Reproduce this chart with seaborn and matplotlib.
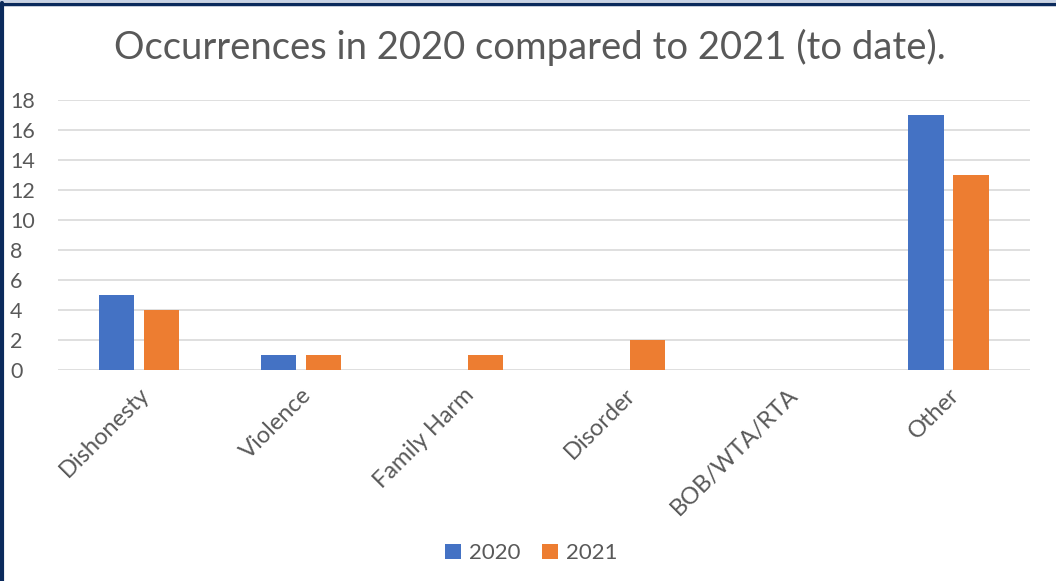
import matplotlib
matplotlib.use("Agg")
import matplotlib.pyplot as plt
import seaborn as sns
import pandas as pd
from matplotlib.patches import Rectangle
from matplotlib.lines import Line2D

categories = ["Dishonesty", "Violence", "Family Harm", "Disorder", "BOB/WTA/RTA", "Other"]
values_2020 = [5, 1, 0, 0, 0, 17]
values_2021 = [4, 1, 1, 2, 0, 13]
series = ["2020", "2021"]
colors = ["#4472C4", "#ED7D31"]
yticks = [0, 2, 4, 6, 8, 10, 12, 14, 16, 18]

df = pd.DataFrame({
    "Category": categories * 2,
    "Year": [series[0]] * len(categories) + [series[1]] * len(categories),
    "Count": values_2020 + values_2021,
})

sns.set_theme(style="white")
plt.rcParams["font.family"] = ["Lato", "DejaVu Sans"]
gray = "#595959"

fig = plt.figure(figsize=(10.56, 5.81), dpi=100)
ax = fig.add_axes([0.055, 0.3632, 0.920, 0.4647])

sns.barplot(data=df, x="Category", y="Count", hue="Year", palette=colors,
            width=0.556, gap=0.21, ax=ax, legend=False, saturation=1,
            edgecolor="none")

ax.set_xlim(-0.5, 5.5)
ax.set_ylim(0, 18)
ax.set_yticks(yticks)
ax.set_yticklabels([str(v) for v in yticks], fontsize=15.5, color=gray)
ax.yaxis.grid(True, color="#d9d9d9", linewidth=1.2)
ax.set_axisbelow(True)
for s in ax.spines.values():
    s.set_visible(False)
ax.tick_params(axis="both", length=0)
ax.tick_params(axis="y", pad=34.5)
for lbl in ax.get_yticklabels():
    lbl.set_horizontalalignment("left")
ax.set_xticks(range(len(categories)))
ax.set_xticklabels(categories, rotation=45, ha="right", rotation_mode="anchor",
                   fontsize=17, color=gray)
ax.tick_params(axis="x", pad=10)
ax.set_xlabel("")
ax.set_ylabel("")

fig.suptitle("Occurrences in 2020 compared to 2021 (to date).", x=0.502, y=0.919,
             fontsize=27.5, color=gray, va="center")

handles = [Rectangle((0, 0), 1, 1, facecolor=c, edgecolor="none") for c in colors]
fig.legend(handles, series, loc="center", bbox_to_anchor=(0.503, 0.048), ncol=2,
           frameon=False, fontsize=16, labelcolor=gray, handlelength=0.7,
           handleheight=0.7, handletextpad=0.35, columnspacing=1.0)

# border
fig.add_artist(Line2D([0, 1], [0.9935, 0.9935], transform=fig.transFigure,
                      color="#0b2a5c", linewidth=2.5))
fig.add_artist(Line2D([0.0015, 0.0015], [0, 0.995], transform=fig.transFigure,
                      color="#0b2a5c", linewidth=3))
fig.add_artist(Rectangle((0, 0.9965), 1, 0.0035, transform=fig.transFigure,
                         facecolor="#c8d3e6", edgecolor="none"))

fig.savefig("out.png", dpi=100, facecolor="white")
